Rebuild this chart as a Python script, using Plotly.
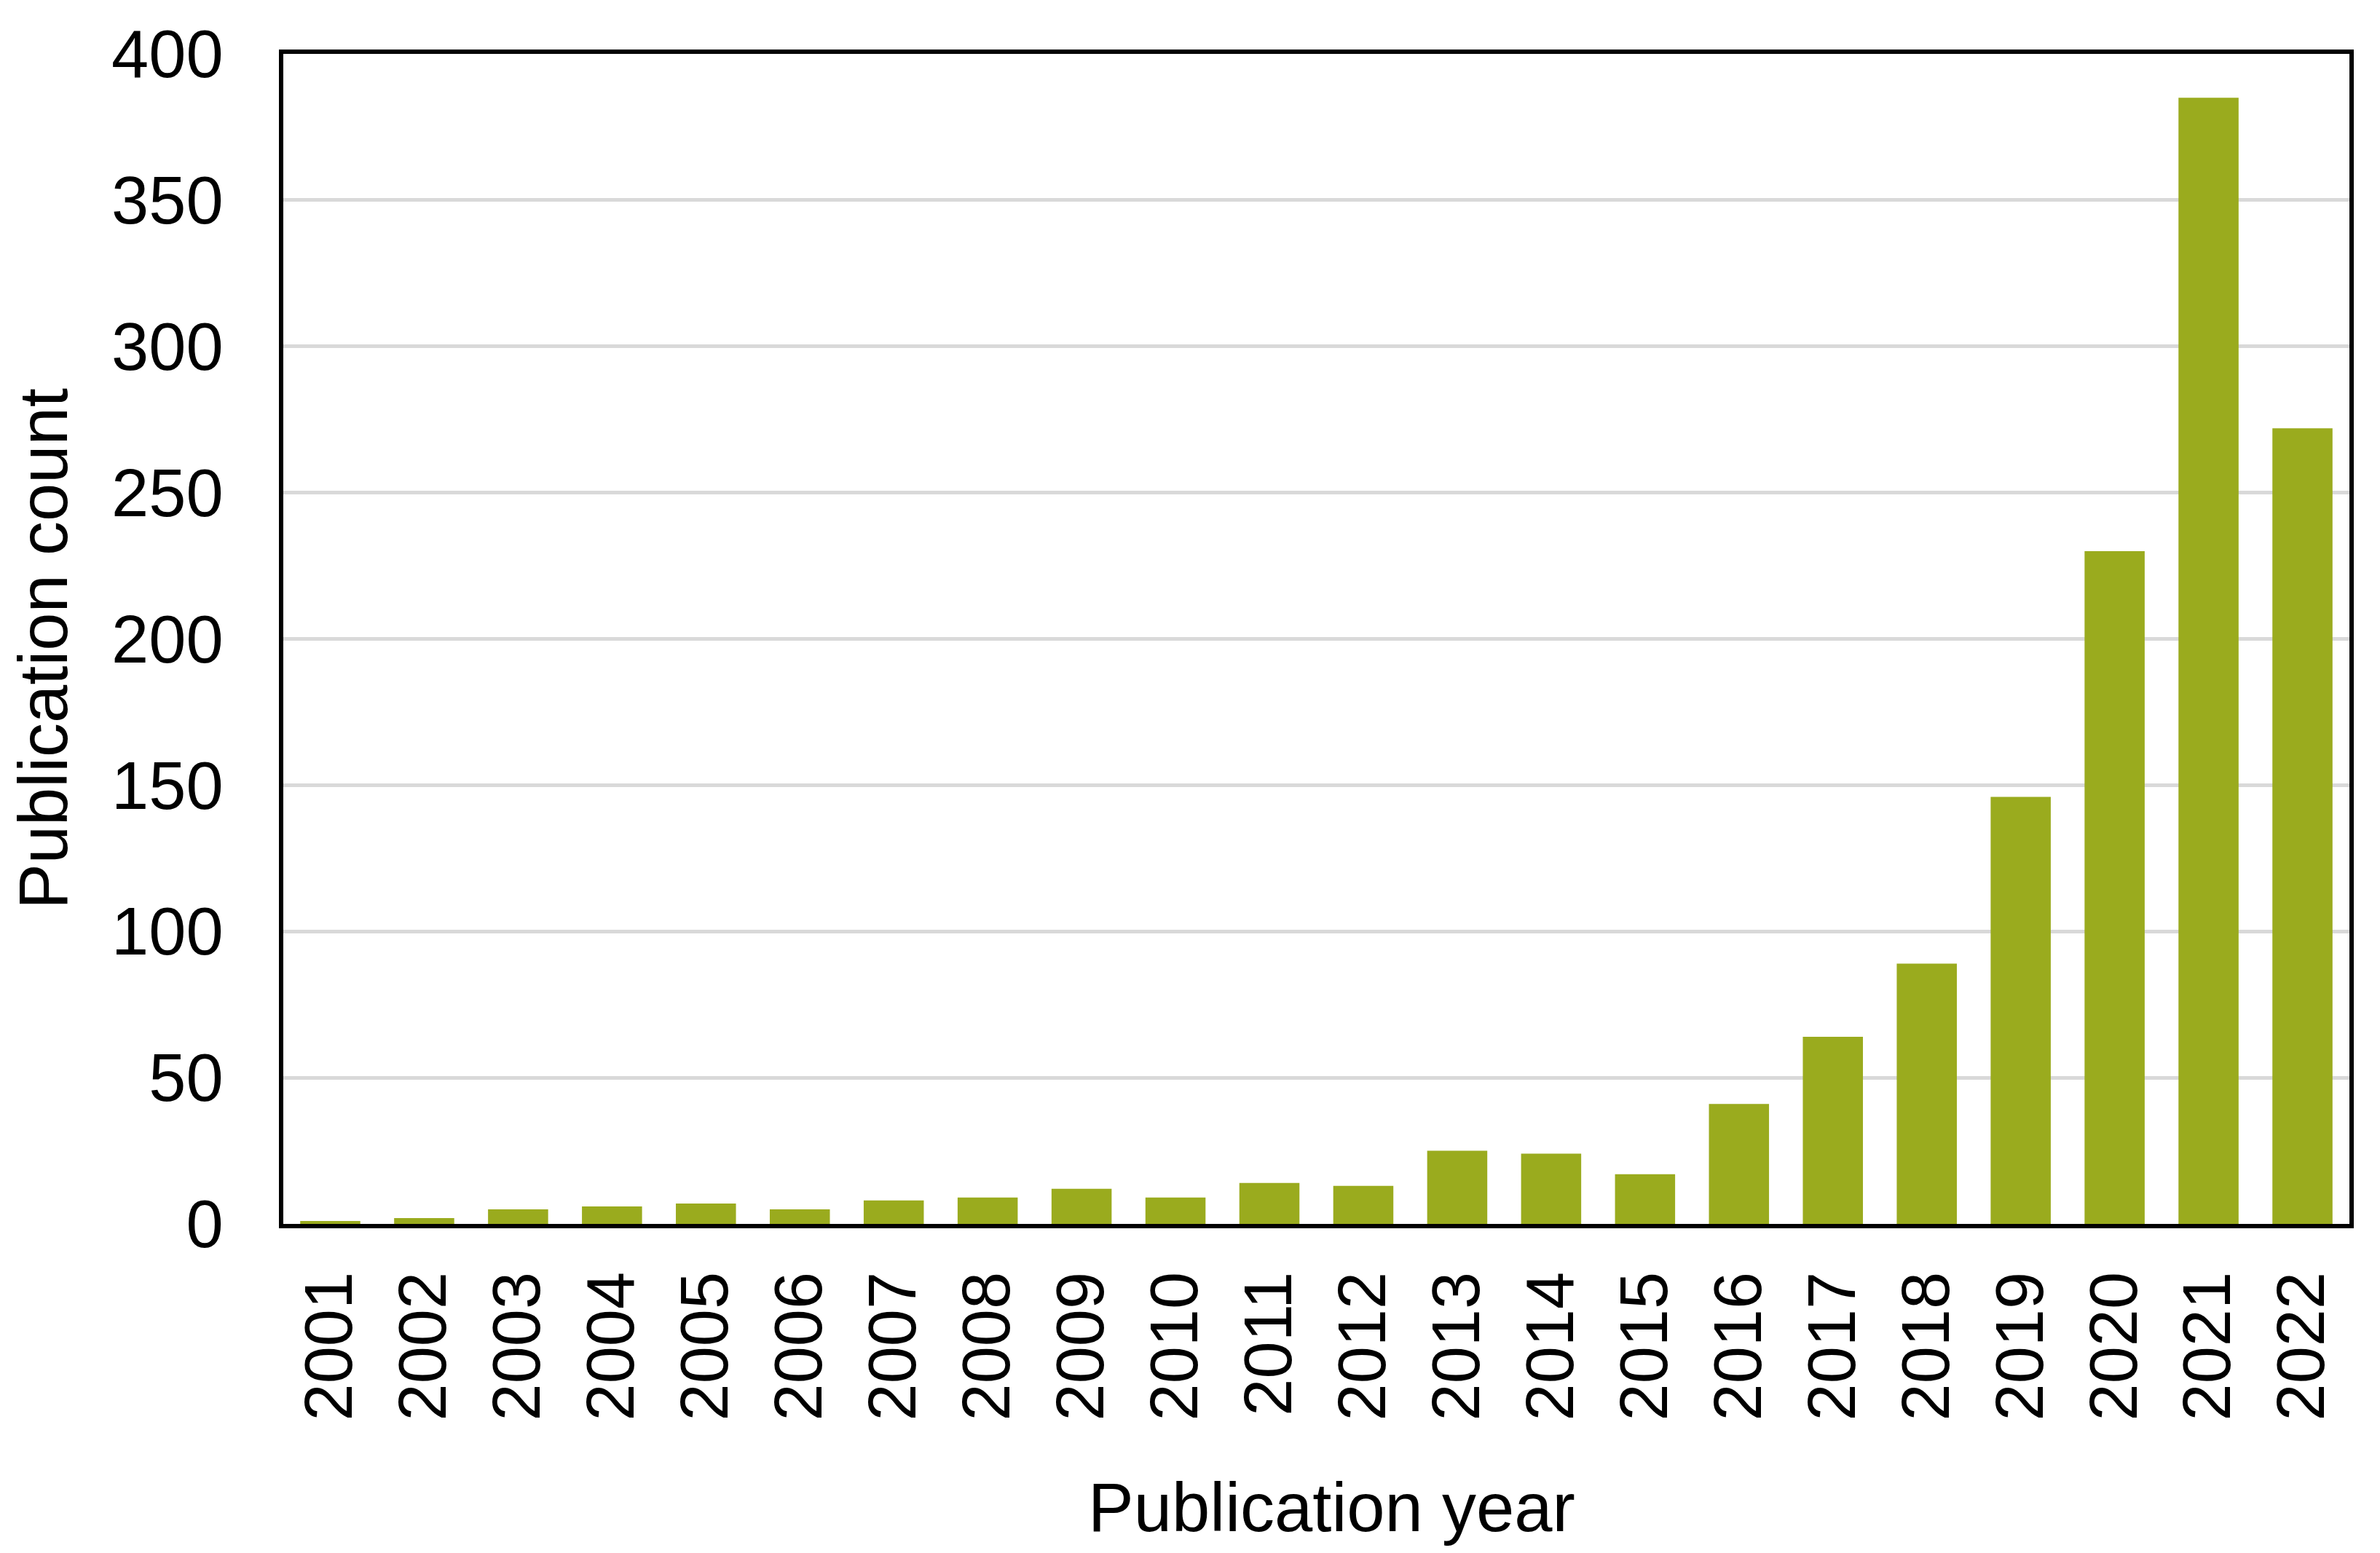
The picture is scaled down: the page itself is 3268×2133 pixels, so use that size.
import plotly.graph_objects as go

years = [str(y) for y in range(2001, 2023)]
counts = [1, 2, 5, 6, 7, 5, 8, 9, 12, 9, 14, 13, 25, 24, 17, 41, 64, 89, 146, 230, 385, 272]
y_ticks = [0, 50, 100, 150, 200, 250, 300, 350, 400]

FONT = "Liberation Sans, Arial, sans-serif"

fig = go.Figure(
    go.Bar(x=years, y=counts, marker=dict(color="#9AAB1E", line=dict(width=0)))
)

fig.update_layout(
    width=3260,
    height=2125,
    margin=dict(l=381, r=42, t=66, b=452),
    paper_bgcolor="white",
    plot_bgcolor="white",
    bargap=0.36,
    showlegend=False,
    font=dict(family=FONT, size=92, color="black"),
)

fig.update_xaxes(
    type="category",
    automargin=False,
    tickangle=-90,
    tickfont=dict(size=92),
    ticks="",
    ticklabelstandoff=23,
    showline=True,
    linecolor="black",
    linewidth=6,
    mirror=True,
    showgrid=False,
)

fig.update_yaxes(
    range=[0, 400],
    automargin=False,
    tickvals=y_ticks,
    tickfont=dict(size=92),
    ticks="",
    ticklabelstandoff=58,
    showline=True,
    linecolor="black",
    linewidth=6,
    mirror=True,
    showgrid=True,
    gridcolor="#D9D9D9",
    gridwidth=5,
    zeroline=False,
)

fig.add_annotation(
    text="Publication year",
    xref="paper", yref="paper",
    x=0.5074, y=0,
    xanchor="center", yanchor="middle",
    yshift=-389,
    showarrow=False,
    font=dict(family=FONT, size=94, color="black"),
)
fig.add_annotation(
    text="Publication count",
    xref="paper", yref="paper",
    x=0, y=0.4916,
    xanchor="center", yanchor="middle",
    xshift=-329,
    textangle=-90,
    showarrow=False,
    font=dict(family=FONT, size=94, color="black"),
)

fig.write_html("out.html")
